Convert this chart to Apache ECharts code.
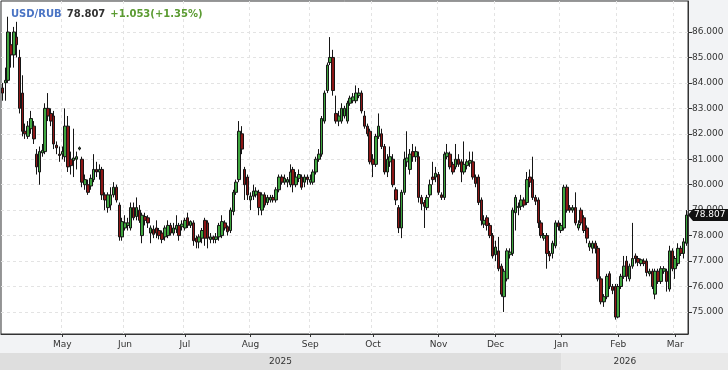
<!DOCTYPE html>
<html><head><meta charset="utf-8">
<script src="https://cdn.jsdelivr.net/npm/echarts@6/dist/echarts.min.js"></script>
<style>html,body{margin:0;padding:0;background:#f2f3f5}#c{width:728px;height:370px}</style>
</head><body><div id="c"></div>
<script>
const symbol = 'USD/RUB';
// [open, close, low, high] per trading day
const ohlc = [
[83.8,83.6,83.3,84.0],[84.0,84.1,83.3,84.6],[84.1,86.0,84.0,86.6],[85.5,85.1,84.6,86.0],[85.1,86.0,84.6,86.2],
[85.8,85.5,85.0,86.4],[85.0,83.0,82.8,85.3],[83.6,82.1,81.9,84.3],[82.1,82.0,81.8,82.4],[81.9,82.3,81.8,82.5],
[82.2,82.6,82.0,82.9],[82.3,81.8,81.6,82.5],[81.2,80.7,80.4,81.4],[80.5,81.3,80.0,81.5],[81.25,81.35,81.1,81.6],
[81.3,83.0,81.2,83.2],[83.0,82.7,82.5,83.6],[82.8,82.5,82.3,83.0],[82.7,81.6,81.4,82.9],[81.55,81.45,81.2,81.7],
[81.2,81.15,80.9,81.5],[81.2,81.3,81.0,81.5],[81.1,82.3,80.9,83.0],[82.3,80.7,80.5,82.7],[81.0,80.75,80.4,81.3],
[80.95,81.05,80.3,82.2],[81.0,81.1,80.6,81.3],[81.4,81.45,81.35,81.5],[81.0,80.1,79.9,81.1],[80.0,80.2,79.8,80.4],
[80.0,79.7,79.6,80.2],[79.95,80.25,79.8,80.4],[80.2,80.6,80.1,81.2],[80.6,80.5,80.3,80.9],[80.5,80.6,80.2,80.8],
[80.6,79.6,79.4,80.7],[79.6,79.4,79.0,79.7],[79.1,79.6,78.9,79.7],[79.2,79.6,79.0,79.9],[79.6,79.9,79.5,80.1],
[79.9,79.4,79.3,80.0],[79.2,77.95,77.8,79.3],[77.95,78.55,77.8,78.7],[78.3,78.5,78.2,78.8],[78.4,78.5,78.2,78.7],
[78.3,79.1,78.2,79.3],[79.1,78.7,78.6,79.3],[78.75,79.1,78.6,79.5],[79.0,78.6,78.5,79.2],[78.0,78.8,77.7,78.9],
[78.75,78.6,78.4,78.9],[78.7,78.5,78.3,78.8],[78.1,78.3,77.7,78.4],[78.25,78.05,77.9,78.4],[78.3,78.1,77.9,78.6],
[78.2,78.0,77.85,78.3],[78.1,77.85,77.7,78.2],[77.95,78.3,77.8,78.4],[78.0,78.4,77.9,78.6],[78.4,78.1,78.0,78.5],
[78.1,78.3,78.0,78.5],[78.25,78.4,78.1,78.8],[78.4,78.0,77.8,78.5],[78.35,78.45,78.2,78.6],[78.3,78.6,78.2,78.7],
[78.7,78.4,78.3,78.9],[78.4,78.55,78.3,78.6],[78.5,77.8,77.6,78.6],[77.9,77.75,77.5,78.0],[77.75,77.95,77.5,78.05],
[77.9,78.2,77.7,78.3],[78.6,77.9,77.6,78.7],[78.5,77.9,77.5,78.6],[77.85,77.95,77.7,78.1],[77.95,77.85,77.7,78.0],
[77.85,77.95,77.7,78.1],[77.95,78.4,77.8,78.5],[78.0,78.55,77.9,78.8],[78.5,78.3,78.2,78.6],[78.35,78.15,78.0,78.4],
[78.2,79.0,78.1,79.1],[78.95,79.7,78.8,79.8],[79.7,80.1,79.6,80.2],[80.2,82.1,80.1,82.5],[82.0,81.4,81.2,82.3],
[80.6,80.0,79.4,80.7],[80.3,79.6,79.4,80.4],[79.4,79.55,79.0,79.7],[79.55,79.75,79.4,80.0],[79.6,79.75,79.5,79.9],
[79.7,79.1,78.8,79.8],[79.0,79.6,78.8,79.7],[79.6,79.2,79.1,79.7],[79.3,79.5,79.2,79.6],[79.4,79.5,79.3,79.6],
[79.5,79.4,79.3,79.6],[79.4,79.8,79.3,79.9],[79.8,80.3,79.7,80.4],[80.3,80.1,80.0,80.4],[80.1,80.25,80.0,80.4],
[80.1,80.2,79.9,80.3],[80.0,80.5,79.9,80.8],[80.6,80.0,79.7,80.7],[80.0,80.3,79.9,80.5],[80.25,80.4,80.1,80.6],
[80.3,79.9,79.8,80.4],[80.1,80.3,79.9,80.4],[80.3,80.2,80.0,80.4],[80.1,80.2,80.0,80.4],[80.1,80.5,80.0,80.6],
[80.5,81.0,80.4,81.1],[81.0,81.2,80.9,81.4],[81.2,82.6,81.1,82.7],[82.5,83.6,82.4,83.7],[83.7,84.7,83.6,84.8],
[84.8,85.0,84.7,85.8],[85.0,83.7,83.5,85.3],[82.8,82.5,82.4,83.5],[82.5,82.7,82.3,82.9],[82.5,83.0,82.4,83.2],
[82.7,83.0,82.6,83.1],[82.5,83.2,82.4,83.3],[83.2,83.4,83.1,83.5],[83.3,83.45,83.2,83.6],[83.3,83.6,83.2,83.9],
[83.5,83.6,83.4,83.8],[83.6,82.9,82.8,83.7],[82.7,82.3,82.2,82.9],[82.3,82.0,81.9,82.4],[82.1,80.9,80.8,82.2],
[81.0,80.8,80.3,81.2],[80.8,81.9,80.7,82.0],[81.9,82.3,81.8,82.8],[82.0,81.5,81.4,82.2],[81.5,80.5,80.4,81.6],
[80.5,81.0,80.3,81.2],[80.9,81.1,80.7,81.5],[81.0,80.0,79.9,81.2],[79.8,79.4,79.2,79.9],[79.1,78.3,78.1,79.2],
[78.3,79.7,77.9,79.8],[79.7,81.0,79.6,81.3],[80.9,81.05,80.7,82.1],[80.6,81.2,80.4,81.4],[81.3,81.1,80.9,81.6],
[81.1,81.3,80.9,81.5],[81.1,79.5,79.3,81.3],[79.5,79.25,79.0,79.6],[79.3,79.15,78.3,79.4],[79.1,79.5,79.0,79.6],
[79.6,80.0,79.5,80.2],[80.3,80.2,80.0,80.9],[80.3,80.45,80.1,80.7],[80.4,79.7,79.6,80.5],[79.6,79.5,79.4,79.7],
[79.5,81.2,79.4,81.3],[81.1,81.25,81.0,81.6],[81.2,80.7,80.6,81.3],[80.8,80.5,80.4,80.9],[80.7,81.0,80.6,81.6],
[81.0,80.8,80.7,81.2],[80.9,80.5,80.1,81.0],[80.5,80.8,80.4,81.7],[80.75,80.9,80.6,81.0],[80.85,80.95,80.7,81.3],
[80.9,80.3,80.2,81.3],[80.3,80.05,79.9,80.4],[80.3,79.3,79.2,80.4],[79.4,78.6,78.4,79.5],[78.45,78.6,78.3,78.8],
[78.7,78.4,78.2,78.8],[78.4,78.0,77.9,78.5],[78.0,77.2,77.1,78.1],[77.25,77.55,77.0,77.8],[77.4,76.7,76.6,77.95],
[76.8,75.7,75.6,76.9],[75.6,76.6,75.0,76.7],[76.3,77.4,76.2,77.5],[77.25,77.35,77.1,77.5],[77.3,79.0,77.2,79.1],
[78.9,79.5,78.2,79.6],[79.1,79.15,78.8,79.3],[79.15,79.4,79.0,79.6],[79.4,79.2,79.1,79.5],[79.3,80.2,79.2,80.5],
[80.3,80.1,79.9,80.6],[80.2,79.5,79.4,81.1],[79.5,79.35,79.2,79.6],[79.4,78.5,78.3,79.5],[78.5,78.0,77.9,78.6],
[77.9,78.0,77.8,78.1],[78.0,77.3,76.7,78.1],[77.3,77.2,77.0,77.4],[77.3,77.7,77.1,77.8],[77.6,78.5,77.5,78.6],
[78.5,78.35,78.2,78.6],[78.2,78.4,78.1,78.5],[78.3,79.9,78.2,80.0],[79.9,79.0,78.9,80.0],[79.1,79.0,78.9,79.2],
[79.0,79.1,78.9,79.2],[79.1,78.5,78.4,79.7],[78.3,78.45,78.2,78.6],[79.0,78.5,78.4,79.1],[78.7,78.2,78.1,78.8],
[78.3,77.9,77.7,78.4],[77.55,77.7,77.4,77.8],[77.5,77.7,77.3,77.8],[77.7,77.5,77.3,77.8],[77.5,76.3,76.2,77.6],
[76.3,75.4,75.3,76.4],[75.4,75.6,75.2,75.7],[75.6,76.4,75.5,76.5],[76.5,76.0,75.9,76.6],[76.0,75.85,75.7,76.1],
[76.0,74.8,74.7,76.1],[74.8,76.0,74.75,76.1],[76.0,76.4,75.9,76.5],[76.4,76.8,76.3,77.2],[77.0,76.4,76.2,77.2],
[76.3,76.8,76.2,76.9],[76.8,77.1,76.7,78.5],[77.2,77.1,76.9,77.3],[77.1,76.95,76.8,77.2],[76.9,77.05,76.8,77.1],
[77.0,76.9,76.8,77.1],[77.0,76.55,76.4,77.1],[76.5,76.6,76.4,76.7],[76.6,76.0,75.9,76.7],[75.7,76.6,75.5,76.7],
[76.6,76.2,76.1,76.7],[76.2,76.7,76.1,76.8],[76.6,76.7,76.5,76.8],[76.6,76.2,75.8,76.7],[75.9,77.4,75.8,77.6],
[77.4,76.7,76.6,77.5],[76.7,77.1,76.3,77.2],[76.9,77.5,76.8,77.7],[77.5,77.3,77.2,77.6],[77.3,77.754,77.1,77.9],
[77.7,78.807,77.6,79.0]
];
const yTicks = [75,76,77,78,79,80,81,82,83,84,85,86];
const monthNames = ['Jan','Feb','Mar','Apr','May','Jun','Jul','Aug','Sep','Oct','Nov','Dec'];
const holidays = ['2026-01-01','2026-01-02'];

// trading-day categories (weekdays, minus holidays)
const dates = [];
for (let t = Date.UTC(2025,3,2); t <= Date.UTC(2026,2,6); t += 86400000) {
  const d = new Date(t); const wd = d.getUTCDay();
  if (wd === 0 || wd === 6) continue;
  const s = d.toISOString().slice(0,10);
  if (holidays.indexOf(s) >= 0) continue;
  dates.push(s);
}
const monthStart = dates.map((d,i) => i > 0 && d.slice(5,7) !== dates[i-1].slice(5,7));

const last = ohlc[ohlc.length-1][1], prev = ohlc[ohlc.length-2][1];
const chg = last - prev, pct = chg / prev * 100;
const sg = chg >= 0 ? '+' : '';
const F = 'DejaVu Sans';

const chart = echarts.init(document.getElementById('c'));
chart.setOption({
  animation: false,
  backgroundColor: '#f2f3f5',
  title: {
    left: 6, top: 0, z: 10,
    text: '{a|' + symbol + '} {b|' + last.toFixed(3) + '} {c|' + sg + chg.toFixed(3) + '(' + sg + pct.toFixed(2) + '%)}',
    textStyle: { rich: {
      a: {color:'#4a74c4', fontWeight:'bold', fontSize:10, fontFamily:F},
      b: {color:'#333', fontWeight:'bold', fontSize:10, fontFamily:F},
      c: {color:'#5b9b32', fontWeight:'bold', fontSize:10, fontFamily:F}
    }}
  },
  grid: {left:1, right:40, top:1, bottom:36, show:true, backgroundColor:'#fff', borderColor:'#333', borderWidth:1},
  xAxis: {
    type: 'category', data: dates, boundaryGap: true,
    axisLine: {lineStyle:{color:'#333', width:1}},
    axisTick: {show:true, alignWithLabel:true, length:3, interval:(i)=>monthStart[i], lineStyle:{color:'#333'}},
    axisLabel: {interval:(i)=>monthStart[i], formatter:(v)=>monthNames[+v.slice(5,7)-1], fontSize:9, fontFamily:F, color:'#333', margin:6},
    splitLine: {show:true, interval:(i)=>monthStart[i], lineStyle:{color:'#e3e3e3', type:[3,3]}}
  },
  yAxis: {
    type: 'value', position: 'right', scale: true, min: 74.134, max: 87.218,
    axisLine: {show:true, lineStyle:{color:'#333'}},
    axisTick: {show:true, length:4, customValues: yTicks, lineStyle:{color:'#333'}},
    axisLabel: {customValues: yTicks, formatter:(v)=>v.toFixed(3), fontSize:9, fontFamily:F, color:'#333', margin:4},
    splitLine: {show:true, lineStyle:{color:'#e3e3e3', type:[3,3]}}
  },
  series: [{
    type: 'candlestick', data: ohlc, barWidth: 3,
    itemStyle: {color:'#3fa53f', color0:'#8c1616', borderColor:'#151515', borderColor0:'#151515', borderWidth:1}
  }]
});

// year band row and last-price badge, positioned from the chart's own scales
const i26 = dates.findIndex(d => d.slice(0,4) === '2026');
const xJan = chart.convertToPixel({xAxisIndex:0}, dates[i26]);
const xEnd = chart.convertToPixel({xAxisIndex:0}, dates[dates.length-1]) + 2;
const yLast = chart.convertToPixel({yAxisIndex:0}, last);
chart.setOption({graphic: [
  {type:'rect', shape:{x:0, y:353, width:xJan, height:17}, style:{fill:'#dedede'}, silent:true},
  {type:'rect', shape:{x:xJan, y:353, width:728-xJan, height:17}, style:{fill:'#e9e9e9'}, silent:true},
  {type:'text', x:xJan/2, y:362, style:{text:'2025', fill:'#333', font:'9px "DejaVu Sans"', align:'center', verticalAlign:'middle'}},
  {type:'text', x:(xJan+xEnd)/2, y:362, style:{text:'2026', fill:'#333', font:'9px "DejaVu Sans"', align:'center', verticalAlign:'middle'}},
  {type:'polygon', z:100, shape:{points:[[688,yLast],[693,yLast-6],[728,yLast-6],[728,yLast+6],[693,yLast+6]]}, style:{fill:'#111'}},
  {type:'text', z:101, x:694, y:yLast, style:{text:last.toFixed(3), fill:'#fff', font:'9px "DejaVu Sans"', verticalAlign:'middle'}}
]});
</script></body></html>
